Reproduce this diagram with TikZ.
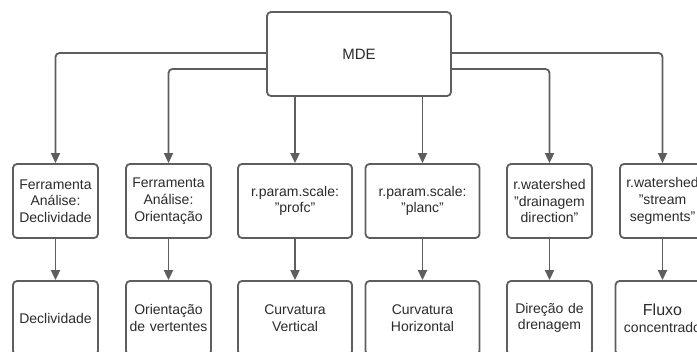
\documentclass[tikz,border=0pt]{standalone}
\usepackage{fontspec}
\setmainfont{Liberation Sans}
\usetikzlibrary{arrows.meta}
\definecolor{ln}{HTML}{5E5E5E}
\definecolor{tx}{HTML}{2B2B2B}
\tikzset{
  box/.style={draw=ln, line width=1.8pt, rounded corners=4pt, fill=white,
    align=center, text=tx, minimum height=74pt, inner sep=2pt,
    font=\fontsize{14}{16.7}\selectfont},
  narrow/.style={box, minimum width=85pt, text width=81pt},
  wide/.style={box, minimum width=114pt, text width=108pt},
  conn/.style={draw=ln, line width=1.8pt, rounded corners=4pt,
    -{Triangle[length=10pt,width=9pt]}}
}
\begin{document}
\begin{tikzpicture}[x=1pt,y=-1pt]
\useasboundingbox (0,0) rectangle (697,352);
\clip (0,0) rectangle (697,352);
\node[box, minimum width=184pt, minimum height=84pt, font=\fontsize{15}{18}\selectfont] (mde) at (359,54) {MDE};
% upper row
\node[narrow] (t1) at (55.5,201) {Ferramenta\\Análise:\\Declividade};
\node[narrow] (t2) at (168.5,201) {Ferramenta\\Análise:\\Orientação};
\node[wide]   (t3) at (295,201) {r.param.scale:\\"profc"};
\node[wide]   (t4) at (422.5,201) {r.param.scale:\\"planc"};
\node[narrow] (t5) at (549.5,201) {r.watershed\\"drainagem\\direction"};
\node[narrow] (t6) at (662.5,201) {r.watershed\\"stream\\segments"};
% lower row
\node[narrow] (b1) at (55.5,318) {Declividade};
\node[narrow] (b2) at (168.5,318) {Orientação\\de vertentes};
\node[wide]   (b3) at (295,318) {Curvatura\\Vertical};
\node[wide]   (b4) at (422.5,318) {Curvatura\\Horizontal};
\node[narrow] (b5) at (549.5,318) {Direção de\\drenagem};
\node[narrow, text width=90pt] (b6) at (662.5,318) {{\fontsize{16}{19}\selectfont Fluxo}\\concentrado};
% connectors from MDE
\draw[conn] ([yshift=1pt]mde.west) -| (t1.north);
\draw[conn] ([yshift=-15pt]mde.west) -| (t2.north);
\draw[conn] (mde.south -| t3.north) -- (t3.north);
\draw[conn] (mde.south -| t4.north) -- (t4.north);
\draw[conn] ([yshift=-15pt]mde.east) -| (t5.north);
\draw[conn] ([yshift=1pt]mde.east) -| (t6.north);
% connectors to results
\draw[conn] (t1.south) -- (b1.north);
\draw[conn] (t2.south) -- (b2.north);
\draw[conn] (t3.south) -- (b3.north);
\draw[conn] (t4.south) -- (b4.north);
\draw[conn] (t5.south) -- (b5.north);
\draw[conn] (t6.south) -- (b6.north);
\end{tikzpicture}
\end{document}
